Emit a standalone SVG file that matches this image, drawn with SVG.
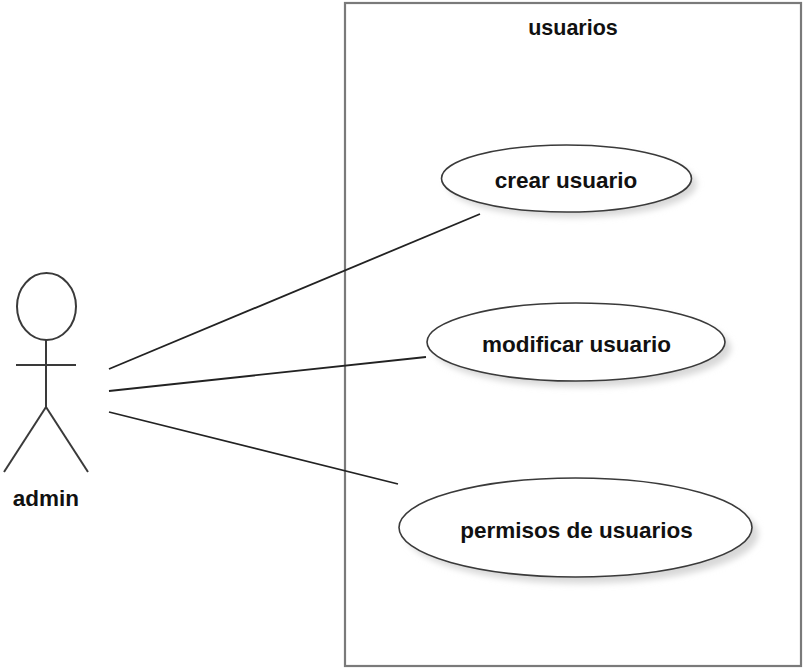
<svg xmlns="http://www.w3.org/2000/svg" width="804" height="671" viewBox="0 0 804 671">
<style>
.lbl{font-family:"Liberation Sans",Arial,sans-serif;font-weight:bold;font-size:22.5px;fill:#111;text-anchor:middle}
.uc{fill:#fff;stroke:#3a3a3a;stroke-width:1.6}
.sh{fill:#d8d8d8;filter:url(#blur)}
.act{fill:none;stroke:#3a3a3a;stroke-width:2}
.con{stroke:#222;stroke-width:1.8;fill:none}
</style>
<defs>
<filter id="blur" x="-20%" y="-40%" width="140%" height="180%"><feGaussianBlur stdDeviation="3"/></filter>
</defs>
<rect width="804" height="671" fill="#fff"/>
<g id="system">
<rect x="345" y="3" width="456" height="663" fill="#fff" stroke="#7a7a7a" stroke-width="2.2"/>
<text class="lbl" x="573" y="35" font-size="21.5" style="font-size:21.5px">usuarios</text>
</g>
<g id="connectors">
<line class="con" x1="109" y1="369" x2="480" y2="214"/>
<line class="con" x1="109" y1="391" x2="426" y2="357"/>
<line class="con" x1="109" y1="412" x2="398" y2="484"/>
</g>
<g id="actor-admin">
<ellipse class="act" cx="46.5" cy="306.5" rx="29.5" ry="33.5"/>
<line class="act" x1="46" y1="340" x2="46" y2="407"/>
<line class="act" x1="16" y1="365" x2="76" y2="365"/>
<line class="act" x1="46" y1="407" x2="4" y2="472"/>
<line class="act" x1="46" y1="407" x2="88" y2="472"/>
<text class="lbl" x="46" y="506" style="font-size:22.5px">admin</text>
</g>
<g id="uc-crear">
<ellipse class="sh" cx="572" cy="184" rx="125" ry="33.5"/>
<ellipse class="uc" cx="566.5" cy="178.5" rx="125" ry="33.5"/>
<text class="lbl" x="566" y="188">crear usuario</text>
</g>
<g id="uc-modificar">
<ellipse class="sh" cx="582" cy="348" rx="149" ry="39"/>
<ellipse class="uc" cx="576" cy="342" rx="149" ry="39"/>
<text class="lbl" x="576.5" y="351.5">modificar usuario</text>
</g>
<g id="uc-permisos">
<ellipse class="sh" cx="582" cy="534" rx="176.5" ry="49.5"/>
<ellipse class="uc" cx="575.5" cy="527.5" rx="176.5" ry="49.5"/>
<text class="lbl" x="576.5" y="538">permisos de usuarios</text>
</g>
</svg>
